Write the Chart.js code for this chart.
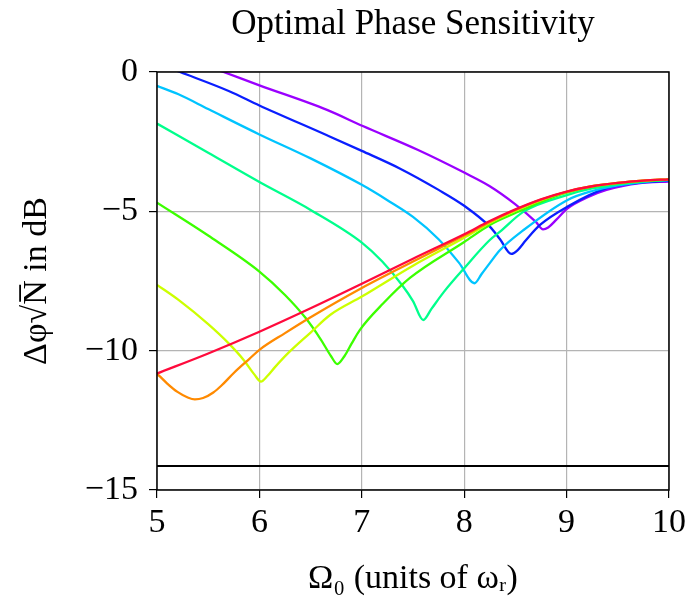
<!DOCTYPE html>
<html>
<head>
<meta charset="utf-8">
<script src="https://cdn.jsdelivr.net/npm/chart.js@4/dist/chart.umd.min.js"></script>
<style>
  html, body { margin: 0; padding: 0; background: #fff; }
  #wrap { width: 698px; height: 605px; }
</style>
</head>
<body>
<div id="wrap"><canvas id="chart" width="698" height="605"></canvas></div>
<script>
// x ticks / y ticks
const xTicks = [5, 6, 7, 8, 9, 10];
const yTicks = [0, -5, -10, -15];

// one curve per detuning, [Omega0, dB]
const redLine = [[5, -10.82], [5.5, -10.1], [6, -9.32], [6.5, -8.48], [7, -7.6], [7.5, -6.7], [8, -5.82], [8.25, -5.35], [8.5, -4.93], [8.75, -4.57], [9, -4.29], [9.25, -4.1], [9.5, -3.98], [9.75, -3.9], [10, -3.85]];
const orangeLine = [[5, -10.82], [5.1, -11.18], [5.2, -11.48], [5.3, -11.68], [5.37, -11.75], [5.45, -11.7], [5.55, -11.5], [5.63, -11.25], [5.75, -10.8], [5.9, -10.3], [6, -9.97], [6.25, -9.37], [6.5, -8.8], [7, -7.75], [7.5, -6.8], [8, -5.87], [8.25, -5.38], [8.5, -4.95], [8.75, -4.58], [9, -4.3], [9.25, -4.1], [9.5, -3.98], [9.75, -3.9], [10, -3.85]];
const yellowLine = [[5, -7.64], [5.21, -8.18], [5.5, -9.05], [5.7, -9.74], [5.85, -10.35], [5.95, -10.85], [6.015, -11.11], [6.08, -10.9], [6.15, -10.6], [6.28, -10.09], [6.5, -9.35], [6.69, -8.72], [7, -8.06], [7.5, -6.95], [8, -5.95], [8.25, -5.42], [8.5, -4.98], [8.75, -4.6], [9, -4.3], [9.25, -4.1], [9.5, -3.98], [9.75, -3.9], [10, -3.85]];
const greenLine = [[5, -4.69], [5.5, -5.87], [6, -7.16], [6.25, -8.0], [6.45, -8.82], [6.6, -9.6], [6.7, -10.2], [6.76, -10.48], [6.83, -10.2], [6.9, -9.75], [6.98, -9.26], [7.21, -8.3], [7.47, -7.39], [8, -6.1], [8.25, -5.49], [8.5, -5.06], [8.75, -4.66], [9, -4.33], [9.25, -4.12], [9.5, -4.0], [9.75, -3.91], [10, -3.86]];
const springLine = [[5, -1.85], [5.5, -2.9], [6, -3.95], [6.5, -4.95], [7, -6.12], [7.2, -6.8], [7.4, -7.68], [7.5, -8.22], [7.6, -8.9], [7.68, -8.5], [7.8, -7.9], [8, -7.04], [8.25, -6.03], [8.35, -5.73], [8.58, -5.01], [9.01, -4.41], [9.25, -4.18], [9.5, -4.03], [9.75, -3.93], [10, -3.87]];
const skyLine = [[5, -0.5], [5.21, -0.8], [5.5, -1.33], [6, -2.24], [6.5, -3.1], [7, -4.05], [7.25, -4.6], [7.5, -5.2], [7.75, -6.0], [7.95, -6.85], [8.1, -7.58], [8.17, -7.25], [8.25, -6.86], [8.35, -6.39], [8.58, -5.67], [9.01, -4.59], [9.25, -4.27], [9.5, -4.07], [9.75, -3.95], [10, -3.88]];
const blueLine = [[5, 0.32], [5.225, 0], [5.7, -0.68], [6, -1.2], [6.66, -2.27], [7, -2.83], [7.37, -3.46], [7.75, -4.23], [8, -4.8], [8.25, -5.55], [8.35, -6.0], [8.46, -6.53], [8.52, -6.4], [8.6, -6.05], [8.74, -5.49], [9.01, -4.83], [9.39, -4.17], [9.7, -3.98], [10, -3.9]];
const purpleLine = [[5.5, 0.2], [5.65, 0], [6, -0.48], [6.66, -1.36], [7.01, -1.94], [7.55, -2.8], [8, -3.61], [8.25, -4.1], [8.5, -4.75], [8.7, -5.38], [8.77, -5.65], [8.82, -5.58], [8.9, -5.3], [9.01, -4.89], [9.2, -4.5], [9.39, -4.23], [9.72, -3.99], [10, -3.93]];

// flat black line near the bottom
const limitLevel = -14.14;
const limitLine = [[5, limitLevel], [10, limitLevel]];

const curves = [
  { data: redLine, color: '#ff0a3c' },
  { data: orangeLine, color: '#ff8a00' },
  { data: yellowLine, color: '#ccff00' },
  { data: greenLine, color: '#3cff00' },
  { data: springLine, color: '#00ff8c' },
  { data: skyLine, color: '#00c4ff' },
  { data: blueLine, color: '#0a1eff' },
  { data: purpleLine, color: '#9a00ff' }
];

const toPts = arr => arr.map(p => ({ x: p[0], y: p[1] }));
const serif = '"Liberation Serif", "DejaVu Serif", serif';
const fontSize = 34;

const datasets = [{
  data: toPts(limitLine),
  borderColor: '#000',
  borderWidth: 2,
  pointRadius: 0
}].concat(curves.map(c => ({
  data: toPts(c.data),
  borderColor: c.color,
  borderWidth: 2.3,
  pointRadius: 0,
  cubicInterpolationMode: 'monotone'
})));

// black box around the plot area
const frame = {
  id: 'frame',
  afterDatasetsDraw(chart) {
    const a = chart.chartArea;
    const ctx = chart.ctx;
    ctx.save();
    ctx.strokeStyle = '#000';
    ctx.lineWidth = 1.5;
    ctx.strokeRect(a.left, a.top, a.right - a.left, a.bottom - a.top);
    ctx.restore();
  }
};

const fmt = v => v < 0 ? '\u2212' + Math.abs(v) : String(v);

new Chart(document.getElementById('chart'), {
  type: 'line',
  data: { datasets },
  options: {
    responsive: false,
    animation: false,
    layout: { padding: { left: 0, right: 29, top: 0, bottom: 0 } },
    plugins: {
      legend: { display: false },
      tooltip: { enabled: false }
    },
    scales: {
      // empty top axis, only to hold the title centred over the plot
      top: {
        type: 'linear',
        position: 'top',
        min: 5, max: 10,
        afterFit: s => { s.height = 72; },
        grid: { display: false },
        border: { display: false },
        ticks: { display: false },
        title: {
          display: true,
          text: 'Optimal Phase Sensitivity',
          color: '#000',
          font: { family: serif, size: 35 },
          padding: { top: 4, bottom: 0 }
        }
      },
      x: {
        type: 'linear',
        min: 5, max: 10,
        afterBuildTicks: s => { s.ticks = xTicks.map(v => ({ value: v })); },
        afterFit: s => { s.height = 115; },
        grid: { color: '#b4b4b4', lineWidth: 1.2, tickColor: '#000', tickLength: 8 },
        border: { display: false },
        ticks: { color: '#000', font: { family: serif, size: fontSize }, padding: 5, maxRotation: 0, callback: fmt },
        title: {
          display: true,
          text: 'Ω\u2080 (units of ω\u1d63)',
          color: '#000',
          font: { family: serif, size: fontSize },
          padding: { top: 0, bottom: 6 }
        }
      },
      y: {
        min: -15, max: 0,
        afterBuildTicks: s => { s.ticks = yTicks.map(v => ({ value: v })); },
        afterFit: s => { s.width = 157; },
        grid: { color: '#b4b4b4', lineWidth: 1.2, tickColor: '#000', tickLength: 8 },
        border: { display: false },
        ticks: { color: '#000', font: { family: serif, size: fontSize }, padding: 11, callback: fmt },
        title: {
          display: true,
          text: 'Δφ√N\u0305 in dB',
          color: '#000',
          font: { family: serif, size: fontSize },
          padding: { top: 17, bottom: 0 }
        }
      }
    }
  },
  plugins: [frame]
});
</script>
</body>
</html>
